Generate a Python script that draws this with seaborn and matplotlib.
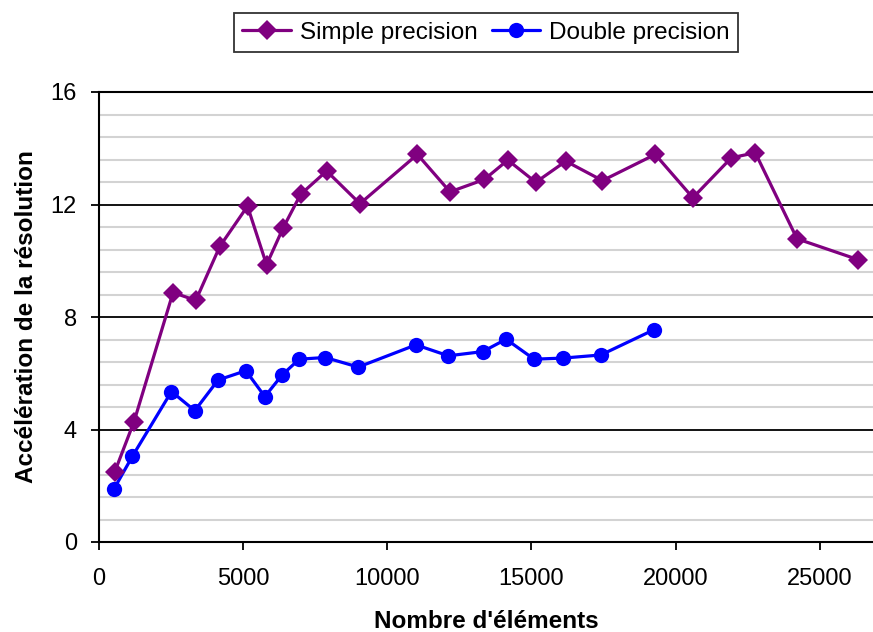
import numpy as np
import pandas as pd
import matplotlib
matplotlib.use("Agg")
import matplotlib.pyplot as plt
import seaborn as sns
from matplotlib.ticker import MultipleLocator

# Data
simple_x = [545, 1215, 2569, 3358, 4191, 5152, 5812, 6389, 6993, 7896, 9052,
            11045, 12177, 13368, 14181, 15153, 16194, 17465, 19295, 20601,
            21934, 22767, 24215, 26333]
simple_y = [2.49, 4.28, 8.87, 8.59, 10.51, 11.94, 9.86, 11.17, 12.36, 13.19, 12.03,
            13.78, 12.45, 12.89, 13.58, 12.79, 13.54, 12.85, 13.78, 12.24,
            13.66, 13.84, 10.78, 10.04]
double_x = [510, 1160, 2514, 3323, 4132, 5094, 5753, 6354, 6944, 7847, 8993,
            10997, 12118, 13313, 14122, 15094, 16111, 17410, 19236]
double_y = [1.87, 3.05, 5.35, 4.67, 5.76, 6.09, 5.17, 5.94, 6.50, 6.56, 6.22,
            7.01, 6.62, 6.77, 7.21, 6.50, 6.54, 6.65, 7.54]
series_names = ["Simple precision", "Double precision"]
x_ticks = [0, 5000, 10000, 15000, 20000, 25000]
y_ticks = [0, 4, 8, 12, 16]

sns.set_theme(style="white")
plt.rcParams['font.family'] = ['Liberation Sans', 'DejaVu Sans']
plt.rcParams['text.color'] = 'black'
plt.rcParams['axes.labelcolor'] = 'black'

fig = plt.figure(figsize=(8.73, 6.32), dpi=100)
ax = fig.add_axes([99 / 873, 1 - 542 / 632, 1 - 99 / 873, (542 - 92) / 632])

df_s = pd.DataFrame({"x": simple_x, "y": simple_y})
df_d = pd.DataFrame({"x": double_x, "y": double_y})

sns.lineplot(data=df_s, x="x", y="y", ax=ax, color="#800080", marker="D",
             markersize=10.5, markeredgewidth=0, linewidth=2.3,
             label=series_names[0], sort=False, zorder=5)
sns.lineplot(data=df_d, x="x", y="y", ax=ax, color="#0000FF", marker="o",
             markersize=11, markeredgewidth=0, linewidth=2.3,
             label=series_names[1], sort=False, zorder=4)

ax.set_xlim(0, 26850)
ax.set_ylim(0, 16)
ax.set_xticks(x_ticks)
ax.set_xticklabels([str(t) for t in x_ticks])
ax.set_yticks(y_ticks)
ax.set_yticklabels([str(t) for t in y_ticks])
ax.yaxis.set_minor_locator(MultipleLocator(0.8))

ax.grid(False)
ax.grid(which="minor", axis="y", color="#d3d3d3", linewidth=1.5, zorder=0)
ax.grid(which="major", axis="y", color="black", linewidth=1.3, zorder=1)
ax.set_axisbelow(True)

for side in ["left", "bottom", "top"]:
    ax.spines[side].set_visible(True)
    ax.spines[side].set_color("black")
    ax.spines[side].set_linewidth(1.5)
ax.spines["right"].set_visible(False)

ax.tick_params(axis="both", which="major", direction="out", length=6, width=1.3,
               color="black", labelsize=17, labelcolor="black",
               left=True, bottom=True)
ax.tick_params(axis="y", which="minor", left=False)
ax.tick_params(axis="x", pad=13)
ax.tick_params(axis="y", pad=10)

ax.set_xlabel("Nombre d'éléments", fontsize=17.5, fontweight="bold", labelpad=14,
              color="black")
ax.set_ylabel("Accélération de la résolution", fontsize=17.5, fontweight="bold",
              labelpad=9, color="black")

ax.get_legend().remove()
handles, labels = ax.get_legend_handles_labels()
leg = fig.legend(handles, labels, loc="center", bbox_to_anchor=(486 / 873, 1 - 32.5 / 632),
                 ncol=2, fontsize=17.5, frameon=True, fancybox=False,
                 edgecolor="black", handlelength=2.0, handletextpad=0.35,
                 columnspacing=0.6, borderpad=0.35, borderaxespad=0)
leg.get_frame().set_linewidth(1.3)
for t in leg.get_texts():
    t.set_color("black")

fig.savefig("out.png", dpi=100)
